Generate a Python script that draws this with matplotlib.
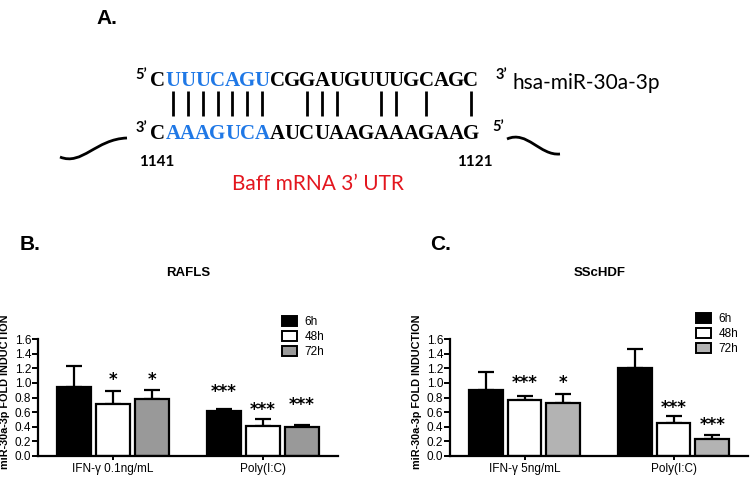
import matplotlib
matplotlib.use("Agg")
import matplotlib.pyplot as plt
import numpy as np
from matplotlib.path import Path
from matplotlib.patches import PathPatch, Patch

# ---------------- data ----------------
mirna_seq = "CUUUCAGUCGGAUGUUUGCAGC"
target_seq = "CAAAGUCAAUCUAAGAAAGAAG"
seed_idx = [1, 2, 3, 4, 5, 6, 7]
pair_idx = [1, 2, 3, 4, 5, 6, 7, 10, 11, 12, 15, 16, 18, 21]
mirna_name = "hsa-miR-30a-3p"
target_name = "Baff mRNA 3\u2019 UTR"
pos_left, pos_right = "1141", "1121"

series = ["6h", "48h", "72h"]
rafls_cats = ["IFN-\u03b3 0.1ng/mL", "Poly(I:C)"]
rafls_mean = [[0.95, 0.62], [0.71, 0.41], [0.78, 0.39]]
rafls_err = [[1.235, 0.647], [0.894, 0.506], [0.898, 0.428]]
rafls_sig = [["", "***"], ["*", "***"], ["*", "***"]]
rafls_sig_y = [[None, 0.87], [1.04, 0.63], [1.04, 0.70]]

sschdf_cats = ["IFN-\u03b3 5ng/mL", "Poly(I:C)"]
sschdf_mean = [[0.90, 1.21], [0.766, 0.456], [0.73, 0.228]]
sschdf_err = [[1.145, 1.468], [0.821, 0.547], [0.848, 0.287]]
sschdf_sig = [["", ""], ["***", "***"], ["*", "***"]]
sschdf_sig_y = [[None, None], [0.995, 0.652], [0.995, 0.424]]

W, H = 753, 479
fig = plt.figure(figsize=(W / 100, H / 100), dpi=100)
fig.patch.set_facecolor("white")

# ---------------- panel A (pixel coordinate overlay) ----------------
axA = fig.add_axes([0, 0, 1, 1])
axA.set_xlim(0, W)
axA.set_ylim(H, 0)
axA.axis("off")

blue = "#1f78e6"
x0, dx = 158, 14.9
seq_font = dict(family="Liberation Serif", weight="bold", fontsize=15)
for i, ch in enumerate(mirna_seq):
    axA.text(x0 + dx * i, 81, ch, color=blue if i in seed_idx else "black",
             ha="center", va="center", **seq_font)
for i, ch in enumerate(target_seq):
    axA.text(x0 + dx * i, 134, ch, color=blue if i in seed_idx else "black",
             ha="center", va="center", **seq_font)
for i in pair_idx:
    axA.plot([x0 + dx * i, x0 + dx * i], [91, 116], color="black", lw=2,
             solid_capstyle="butt")

prime_font = dict(family="Lato", weight="bold", fontsize=10.5)
axA.text(141, 75, "5\u2019", ha="center", va="center", **prime_font)
axA.text(501, 75, "3\u2019", ha="center", va="center", **prime_font)
axA.text(141, 128, "3\u2019", ha="center", va="center", **prime_font)
axA.text(498, 127, "5\u2019", ha="center", va="center", **prime_font)
axA.text(512, 83, mirna_name, ha="left", va="center", family="Lato", fontsize=15)
axA.text(157, 162, pos_left, ha="center", va="center", family="Lato",
         weight="bold", fontsize=11)
axA.text(475, 162, pos_right, ha="center", va="center", family="Lato",
         weight="bold", fontsize=11)
axA.text(318, 184, target_name, ha="center", va="center", family="Lato",
         fontsize=15, color="#e3161e")

for pts in ([(60, 157), (82, 166), (96, 139), (127, 138)],
            [(507, 139), (527, 130), (540, 156), (560, 154)]):
    path = Path(pts, [Path.MOVETO, Path.CURVE4, Path.CURVE4, Path.CURVE4])
    axA.add_patch(PathPatch(path, fill=False, lw=2, color="black"))

lab_font = dict(family="Liberation Sans", weight="bold")
axA.text(96, 18, "A.", ha="left", va="center", fontsize=15, **lab_font)
axA.text(20, 244, "B.", ha="left", va="center", fontsize=15, **lab_font)
axA.text(430, 244, "C.", ha="left", va="center", fontsize=15, **lab_font)
axA.text(188, 273, "RAFLS", ha="center", va="center", fontsize=9.5, **lab_font)
axA.text(600, 273, "SScHDF", ha="center", va="center", fontsize=9.5, **lab_font)


# ---------------- panels B and C ----------------
def bar_panel(rect, cats, means, errs, sigs, sig_ys, gray, legend_xy):
    ax = fig.add_axes(rect)
    colors = ["black", "white", gray]
    x = np.arange(len(cats))
    off, wd = 0.26, 0.225
    for k in range(len(series)):
        xs = x + (k - 1) * off
        m = np.array(means[k])
        e = np.array(errs[k])
        ax.errorbar(xs, m, yerr=[np.zeros_like(m), e - m], fmt="none",
                    ecolor="black", elinewidth=1.6, capsize=5.5, capthick=1.6,
                    zorder=1)
        ax.bar(xs, m, width=wd, color=colors[k], edgecolor="black",
               linewidth=1.6, zorder=2, label=series[k])
        for j in range(len(cats)):
            if sigs[k][j]:
                ax.text(xs[j], sig_ys[k][j], sigs[k][j], ha="center",
                        va="center", family="DejaVu Sans", weight="bold",
                        fontsize=12)
    ax.set_xlim(-0.5, 1.5)
    ax.set_ylim(0, 1.6)
    ax.set_yticks(np.arange(0, 1.61, 0.2))
    ax.set_yticklabels([f"{v:.1f}" for v in np.arange(0, 1.61, 0.2)])
    ax.set_xticks(x)
    ax.set_xticklabels(cats)
    for s in ["top", "right"]:
        ax.spines[s].set_visible(False)
    for s in ["left", "bottom"]:
        ax.spines[s].set_linewidth(1.6)
    ax.tick_params(axis="y", length=4, width=1.4, pad=1, labelsize=8.5)
    ax.tick_params(axis="x", length=3, width=1.4, pad=2, labelsize=8.5)
    for t in ax.get_xticklabels() + ax.get_yticklabels():
        t.set_family("Liberation Sans")
    ax.set_ylabel("miR-30a-3p FOLD INDUCTION", family="Liberation Sans",
                  weight="bold", fontsize=7.8)
    ax.yaxis.set_label_coords(-0.093, 0.55)
    handles = [Patch(facecolor=c, edgecolor="black", linewidth=1.4)
               for c in colors]
    fig.legend(handles, series, loc="upper left",
               bbox_to_anchor=(legend_xy[0] / W, 1 - legend_xy[1] / H),
               frameon=False, handlelength=1.3,
               handleheight=0.9, handletextpad=0.6, labelspacing=0.25,
               borderpad=0, borderaxespad=0,
               prop=dict(family="Liberation Sans", size=8.5))
    return ax


bar_panel([38 / W, 1 - 456 / H, 300 / W, 117 / H], rafls_cats, rafls_mean,
          rafls_err, rafls_sig, rafls_sig_y, "#999999", (282, 316))
bar_panel([450 / W, 1 - 456 / H, 298 / W, 117 / H], sschdf_cats, sschdf_mean,
          sschdf_err, sschdf_sig, sschdf_sig_y, "#b3b3b3", (696, 313))

fig.savefig("out.png", dpi=100)
